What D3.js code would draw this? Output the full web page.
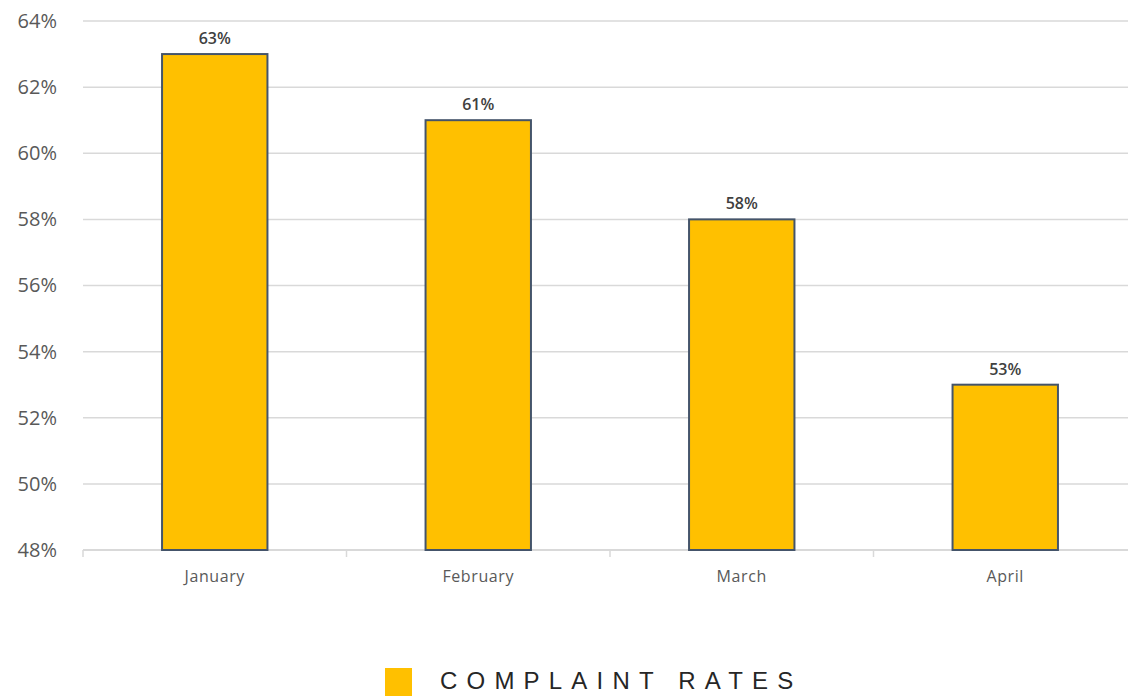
<!DOCTYPE html>
<html>
<head>
<meta charset="utf-8">
<script src="https://cdn.jsdelivr.net/npm/d3@7"></script>
<style>
  body { margin: 0; background: #fff; }
  svg { display: block; }
</style>
</head>
<body>
<div id="chart"></div>
<script>
(function () {
  // Data
  const months = ["January", "February", "March", "April"];
  const rates = [63, 61, 58, 53];
  const yTicks = [48, 50, 52, 54, 56, 58, 60, 62, 64];
  const seriesName = "COMPLAINT RATES";

  const [w, h] = [1128, 696];
  const left = 83, right = 1137, top = 21, bottom = 550;

  const barFill = "#FFC000";
  const barStroke = "#44546A";
  const gridColor = "#d9d9d9";
  const font = "'Open Sans', Lato, sans-serif";

  const xScale = d3.scaleBand()
    .domain(months)
    .range([left, right])
    .paddingInner(0.6)
    .paddingOuter(0.3);

  const yScale = d3.scaleLinear()
    .domain([48, 64])
    .range([bottom, top]);

  const svg = d3.select("#chart")
    .append("svg")
    .attr("width", w)
    .attr("height", h);

  // Gridlines
  svg.append("g")
    .selectAll("line")
    .data(yTicks)
    .enter()
    .append("line")
    .attr("x1", left)
    .attr("x2", w)
    .attr("y1", (d) => yScale(d))
    .attr("y2", (d) => yScale(d))
    .attr("stroke", gridColor)
    .attr("stroke-width", (d) => d === 48 ? 2 : 1.5);

  // Y axis labels
  const yAxis = d3.axisLeft(yScale)
    .tickValues(yTicks)
    .tickSize(0)
    .tickPadding(26)
    .tickFormat((d) => d + "%");

  svg.append("g")
    .attr("transform", `translate(${left}, 0)`)
    .call(yAxis)
    .call((g) => g.select(".domain").remove())
    .selectAll("text")
    .attr("font-family", font)
    .attr("font-size", 20)
    .attr("fill", "#595959");

  // Category tick marks between bands
  const step = xScale.step();
  const boundaries = months.map((m, i) => left + i * step).concat([left + months.length * step]);
  svg.append("g")
    .selectAll("line")
    .data(boundaries)
    .enter()
    .append("line")
    .attr("x1", (d) => d)
    .attr("x2", (d) => d)
    .attr("y1", bottom)
    .attr("y2", bottom + 7)
    .attr("stroke", gridColor)
    .attr("stroke-width", 1.5);

  // Category labels
  svg.append("g")
    .selectAll("text")
    .data(months)
    .enter()
    .append("text")
    .attr("x", (d) => xScale(d) + xScale.bandwidth() / 2)
    .attr("y", 582)
    .attr("text-anchor", "middle")
    .attr("font-family", font)
    .attr("font-size", 16)
    .attr("letter-spacing", "0.6px")
    .attr("fill", "#595959")
    .text((d) => d);

  // Bars
  svg.append("g")
    .selectAll("rect")
    .data(rates)
    .enter()
    .append("rect")
    .attr("x", (d, i) => xScale(months[i]))
    .attr("y", (d) => yScale(d))
    .attr("width", xScale.bandwidth())
    .attr("height", (d) => bottom - yScale(d))
    .attr("fill", barFill)
    .attr("stroke", barStroke)
    .attr("stroke-width", 2);

  // Value labels
  svg.append("g")
    .selectAll("text")
    .data(rates)
    .enter()
    .append("text")
    .attr("x", (d, i) => xScale(months[i]) + xScale.bandwidth() / 2)
    .attr("y", (d) => yScale(d) - 10)
    .attr("text-anchor", "middle")
    .attr("font-family", font)
    .attr("font-size", 16)
    .attr("font-weight", 600)
    .attr("fill", "#404040")
    .text((d) => d + "%");

  // Legend
  svg.append("rect")
    .attr("x", 385)
    .attr("y", 668)
    .attr("width", 27)
    .attr("height", 30)
    .attr("fill", barFill);

  svg.append("text")
    .attr("x", 440)
    .attr("y", 689)
    .attr("font-family", "'Liberation Sans', Arial, sans-serif")
    .attr("font-size", 24)
    .attr("letter-spacing", "9.2px")
    .attr("fill", "#262626")
    .text(seriesName);
})();
</script>
</body>
</html>
